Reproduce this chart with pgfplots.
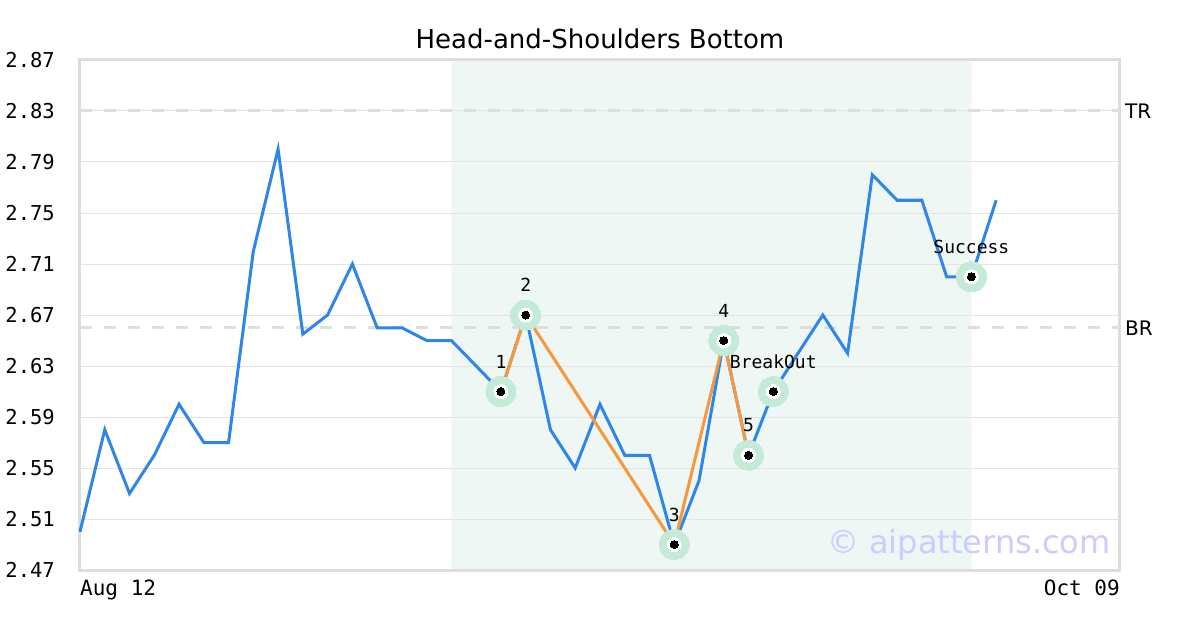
\documentclass[border=0pt]{standalone}
\usepackage{pgfplots}
\pgfplotsset{compat=1.18}
\usepackage{fontspec}
\setmainfont{DejaVu Sans}
\setmonofont{DejaVu Sans Mono}
\definecolor{lineblue}{HTML}{2E86E8}
\definecolor{lineorange}{HTML}{F7973E}
\definecolor{halo}{HTML}{C4EBD8}
\definecolor{shade}{HTML}{EFF7F4}
\definecolor{framegray}{HTML}{DDDDDD}
\definecolor{gridgray}{HTML}{E3E3E3}
\definecolor{dashgray}{HTML}{DEDEDE}
\definecolor{wmark}{HTML}{CCCCFF}
\begin{document}
\begin{tikzpicture}
\begin{axis}[
  at={(0pt,0pt)}, anchor=south west,
  scale only axis, width=1040pt, height=510pt,
  xmin=0, xmax=42, ymin=2.47, ymax=2.87,
  set layers, clip=false,
  axis line style={draw=framegray, line width=3pt},
  major tick length=0pt, tick style={draw=none},
  ymajorgrids, major grid style={draw=gridgray, line width=1pt},
  ytick={2.47,2.51,2.55,2.59,2.63,2.67,2.71,2.75,2.79,2.83,2.87},
  yticklabels={2.47,2.51,2.55,2.59,2.63,2.67,2.71,2.75,2.79,2.83,2.87},
  yticklabel style={anchor=east, inner sep=0pt, xshift=-25pt, font=\ttfamily\fontsize{20.5}{24}\selectfont},
  xtick={0}, xticklabels={Aug 12},
  extra x ticks={42}, extra x tick labels={Oct 09},
  extra x tick style={xticklabel style={anchor=north east}},
  xticklabel style={anchor=north west, inner sep=0pt, yshift=-10pt, font=\ttfamily\fontsize{21}{24}\selectfont},
  /pgf/number format/assume math mode=true,
  title={Head-and-Shoulders Bottom},
  title style={at={(0.5,1)}, anchor=base, yshift=5.7pt, inner sep=0pt, font=\fontsize{26}{31}\selectfont},
]
% shaded pattern window
\addplot[on layer=axis background, fill=shade, draw=none] coordinates {(15,2.47) (15,2.87) (36,2.87) (36,2.47) (15,2.47)};
% TR / BR levels
\addplot[dashgray, line width=3pt, dash pattern=on 12pt off 12pt] coordinates {(0,2.83) (42,2.83)};
\addplot[dashgray, line width=3pt, dash pattern=on 12pt off 12pt] coordinates {(0,2.66) (42,2.66)};
% halos
\addplot[only marks, color=halo, mark=*, mark size=15pt, mark options={fill=halo, draw=halo, line width=0pt}] coordinates {
(17,2.61) (18,2.67) (24,2.49) (26,2.65) (27,2.56) (28,2.61) (36,2.70)};
% price
\addplot[lineblue, line width=3pt, line join=miter] coordinates {
(0,2.50) (1,2.58) (2,2.53) (3,2.56) (4,2.60) (5,2.57) (6,2.57) (7,2.72) (8,2.80) (9,2.655)
(10,2.67) (11,2.71) (12,2.66) (13,2.66) (14,2.65) (15,2.65) (16,2.63) (17,2.61) (18,2.67) (19,2.58)
(20,2.55) (21,2.60) (22,2.56) (23,2.56) (24,2.49) (25,2.54) (26,2.65) (27,2.56) (28,2.61) (29,2.64)
(30,2.67) (31,2.64) (32,2.78) (33,2.76) (34,2.76) (35,2.70) (36,2.70) (37,2.76)};
% pattern
\addplot[lineorange, line width=3pt] coordinates {(17,2.61) (18,2.67) (24,2.49) (26,2.65) (27,2.56)};
% marker centres
\addplot[only marks, color=white, mark=*, mark size=7pt, mark options={fill=white, draw=white, line width=0pt}] coordinates {
(17,2.61) (18,2.67) (24,2.49) (26,2.65) (27,2.56) (28,2.61) (36,2.70)};
\addplot[only marks, color=black, mark=*, mark size=4pt, mark options={fill=black, draw=black, line width=0pt}] coordinates {
(17,2.61) (18,2.67) (24,2.49) (26,2.65) (27,2.56) (28,2.61) (36,2.70)};
% labels
\begin{scope}[every node/.style={font=\ttfamily\fontsize{18}{22}\selectfont, yshift=30pt}]
\node at (axis cs:17,2.61) {1};
\node at (axis cs:18,2.67) {2};
\node at (axis cs:24,2.49) {3};
\node at (axis cs:26,2.65) {4};
\node at (axis cs:27,2.56) {5};
\node at (axis cs:28,2.61) {BreakOut};
\node at (axis cs:36,2.70) {Success};
\end{scope}
\node[anchor=west, inner sep=0pt, xshift=5pt, font=\fontsize{20}{24}\selectfont] at (axis cs:42,2.83) {TR};
\node[anchor=west, inner sep=0pt, xshift=5pt, font=\fontsize{20}{24}\selectfont] at (axis cs:42,2.66) {BR};
\node[anchor=base, inner sep=0pt, yshift=17pt, text=wmark, font=\fontsize{32}{38}\selectfont] at (rel axis cs:0.8548,0) {© aipatterns.com};
\end{axis}
\pgfresetboundingbox
\path[use as bounding box] (-80pt,-60pt) rectangle (1120pt,570pt);
\end{tikzpicture}
\end{document}
